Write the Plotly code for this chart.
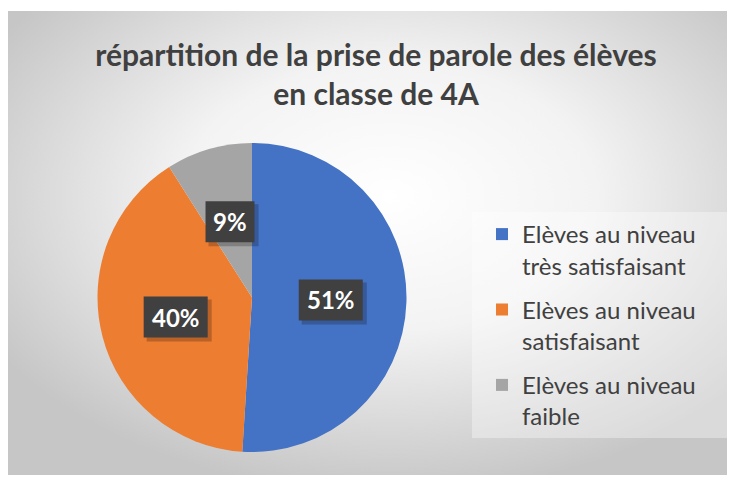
import base64
import math
import plotly.graph_objects as go

# ---- data ----
categories = [
    "Elèves au niveau<br>très satisfaisant",
    "Elèves au niveau<br>satisfaisant",
    "Elèves au niveau<br>faible",
]
values = [51, 40, 9]
colors = ["#4472C4", "#ED7D31", "#A5A5A5"]
title_text = "répartition de la prise de parole des élèves<br>en classe de 4A"

W, H = 732, 477

# ---- background (gradient chart area + legend panel) ----
svg = f"""<svg xmlns='http://www.w3.org/2000/svg' width='{W}' height='{H}' viewBox='0 0 {W} {H}'>
<defs>
<radialGradient id='g' cx='0.53' cy='0.40' r='0.64' gradientUnits='objectBoundingBox'>
<stop offset='0' stop-color='#ffffff'/>
<stop offset='0.45' stop-color='#f3f3f3'/>
<stop offset='1' stop-color='#c6c6c6'/>
</radialGradient>
</defs>
<rect x='0' y='0' width='{W}' height='{H}' fill='#ffffff'/>
<rect x='8' y='11' width='719' height='464' fill='url(#g)'/>
<rect x='472' y='212' width='255' height='226' fill='#ffffff' fill-opacity='0.35'/>
</svg>"""
bg_src = "data:image/svg+xml;base64," + base64.b64encode(svg.encode()).decode()

# pie geometry (pixels)
left, right, top, bottom = 97, 407, 143, 452
cx_px = (left + right) / 2
cy_px = (top + bottom) / 2
r_px = min(right - left, bottom - top) / 2

fig = go.Figure()
fig.add_trace(
    go.Pie(
        labels=categories,
        values=values,
        sort=False,
        direction="clockwise",
        rotation=0,
        marker=dict(colors=colors, line=dict(width=0)),
        textinfo="none",
        hoverinfo="label+percent",
        showlegend=False,
        domain=dict(x=[left / W, right / W], y=[1 - bottom / H, 1 - top / H]),
    )
)

# legend entries (one group per category so the gap between entries can be set)
for lab, col in zip(categories, colors):
    fig.add_trace(
        go.Scatter(
            x=[None], y=[None], mode="markers", name=lab, legendgroup=lab,
            marker=dict(symbol="square", size=12, color=col),
            hoverinfo="skip",
        )
    )

# percentage labels placed from the data (mid-angle of each slice)
total = sum(values)
cum = 0
annotations = []
shapes = []
for v in values:
    mid = (cum + v / 2) / total * 2 * math.pi
    cum += v
    d = 0.51 * r_px
    x_px = cx_px + d * math.sin(mid)
    y_px = cy_px - d * math.cos(mid)
    txt = f"{round(v / total * 100)}%"
    xp, yp = x_px / W, 1 - y_px / H
    bw, bh = 19 + 15 * len(txt), 41
    # shadow
    shapes.append(dict(type="rect", xref="paper", yref="paper",
                       xsizemode="pixel", ysizemode="pixel",
                       xanchor=xp, yanchor=yp,
                       x0=-bw / 2 + 3, x1=bw / 2 + 4, y0=-bh / 2 - 4, y1=bh / 2 - 3,
                       fillcolor="rgba(0,0,0,0.22)", line=dict(width=0), layer="above"))
    # box
    shapes.append(dict(type="rect", xref="paper", yref="paper",
                       xsizemode="pixel", ysizemode="pixel",
                       xanchor=xp, yanchor=yp,
                       x0=-bw / 2, x1=bw / 2, y0=-bh / 2, y1=bh / 2,
                       fillcolor="#404040", line=dict(width=0), layer="above"))
    annotations.append(dict(
        x=xp, y=yp, xref="paper", yref="paper",
        showarrow=False, text=f"<b>{txt}</b>",
        font=dict(family="Lato", size=24, color="#ffffff"),
        xanchor="center", yanchor="middle",
    ))

fig.update_layout(
    width=W, height=H,
    margin=dict(l=0, r=0, t=0, b=0),
    paper_bgcolor="#ffffff",
    plot_bgcolor="rgba(0,0,0,0)",
    xaxis=dict(visible=False), yaxis=dict(visible=False),
    images=[dict(source=bg_src, xref="paper", yref="paper", x=0, y=1,
                 sizex=1, sizey=1, xanchor="left", yanchor="top",
                 sizing="stretch", layer="below")],
    title=dict(
        text=f"<b>{title_text}</b>",
        x=376 / W, xanchor="center", xref="paper",
        y=1 - 66 / H, yanchor="middle", yref="paper",
        font=dict(family="Lato", size=30, color="#404040"),
    ),
    legend=dict(
        x=482 / W, y=1 - 212 / H, xanchor="left", yanchor="top",
        bgcolor="rgba(0,0,0,0)",
        font=dict(family="Lato", size=24, color="#404040"),
        itemwidth=30, valign="top", tracegroupgap=10,
    ),
    annotations=annotations,
    shapes=shapes,
    showlegend=True,
)

fig.write_html("out.html", config={"displayModeBar": False},
               post_script="document.body.style.margin='0';")
